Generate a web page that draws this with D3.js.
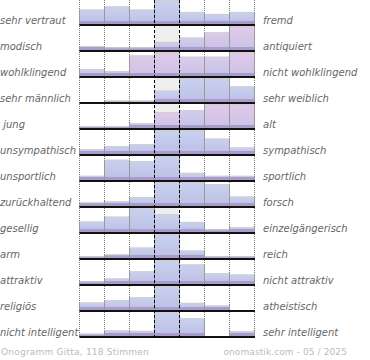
<!DOCTYPE html>
<html><head><meta charset="utf-8">
<script src="https://cdn.jsdelivr.net/npm/d3@7/dist/d3.min.js"></script>
<style>html,body{margin:0;padding:0;background:#fff}svg{display:block}</style>
</head><body>
<script>
const leftLabels = ["sehr vertraut","modisch","wohlklingend","sehr männlich"," jung","unsympathisch","unsportlich","zurückhaltend","gesellig","arm","attraktiv","religiös","nicht intelligent"];
const rightLabels = ["fremd","antiquiert","nicht wohlklingend","sehr weiblich","alt","sympathisch","sportlich","forsch","einzelgängerisch","reich","nicht attraktiv","atheistisch","sehr intelligent"];
const steps = [1,2,3,4,5,6,7];
const votes = [
  [14.7, 18, 14.7, 24.5, 12.3, 10.3, 12.3],
  [4, 2.7, 2.7, 8.3, 12.7, 18, 24.5],
  [7, 5, 21, 24.5, 19.7, 19.7, 24.5],
  [0, 1.3, 1.3, 11.7, 24.5, 24.5, 16],
  [2, 2, 5, 16.3, 18.3, 24.5, 24.5],
  [5, 8, 10, 24.5, 24.5, 15.7, 6.7],
  [4.3, 20.7, 19.3, 24.5, 7.3, 4.3, 4.3],
  [3.7, 5, 9, 24.5, 24.5, 22.3, 9.7],
  [10.7, 15.7, 24.5, 18, 10.3, 2.7, 5],
  [1.7, 3.7, 10.7, 24.5, 7.7, 1.7, 1.7],
  [2.7, 5.7, 13, 24.5, 20, 11, 9.7],
  [7.7, 10, 13, 24.5, 7.3, 4.7, 0],
  [2.3, 5.7, 5.3, 24.5, 18.3, 0, 5]
];
const tint = [
  [0,0,0,0,0,0,0],
  [0,0,0,0.2,0.3,0.7,1],
  [0.2,0,1,1,0.7,0.5,1],
  [0,0,0,0,0,0,0],
  [0,0,0,1,0.4,1,1],
  [0,0,0,0,0,0,0],[0,0,0,0,0,0,0],[0,0,0,0,0,0,0],[0,0,0,0,0,0,0],
  [0,0,0,0,0,0,0],[0,0,0,0,0,0,0],[0,0,0,0,0,0,0],[0,0,0,0,0,0,0]
];
const footerLeft = "Onogramm Gitta, 118 Stimmen";
const footerRight = "onomastik.com - 05 / 2025";

const W = 370, H = 360;
const svg = d3.select("body").append("svg").attr("width", W).attr("height", H);
const defs = svg.append("defs");

const x = d3.scaleBand().domain(steps).range([79.5, 254.5]).paddingInner(0).paddingOuter(0);
const y = d3.scaleBand().domain(d3.range(leftLabels.length)).range([0, 338]);
const rowH = 24; // max bar height
const topBlue = "#cad1ef", botBlue = "#bcc0e5";
const topPink = "#e2c9e9", botPink = "#cbc3e6";

// centre column background
svg.append("rect").attr("x", x(4)).attr("y", 0).attr("width", x.bandwidth()).attr("height", 338).attr("fill", "#eeeeee");

// dotted grid
const bounds = steps.map(s => x(s)).concat([x(7) + x.bandwidth()]);
svg.selectAll("line.grid").data(bounds.filter((b,i) => i !== 3 && i !== 4)).join("line")
  .attr("x1", d => d).attr("x2", d => d).attr("y1", 0).attr("y2", 338)
  .attr("stroke", "#777").attr("stroke-dasharray", "1,1");

// bars
votes.forEach((row, ri) => {
  const base = y(ri) + 24;
  const h = d3.scaleLinear().domain([0, d3.max(row)]).range([0, rowH]);
  const g = svg.append("g");
  row.forEach((v, ci) => {
    const hv = h(v);
    if (hv <= 0) return;
    const t = tint[ri][ci];
    const id = `g${ri}_${ci}`;
    const gr = defs.append("linearGradient").attr("id", id).attr("x1", 0).attr("y1", 0).attr("x2", 0).attr("y2", 1);
    gr.append("stop").attr("offset", "0%").attr("stop-color", d3.interpolateRgb(topBlue, topPink)(t));
    gr.append("stop").attr("offset", "100%").attr("stop-color", d3.interpolateRgb(botBlue, botPink)(t));
    const x0 = x(steps[ci]), bw = x.bandwidth();
    g.append("rect").attr("x", x0).attr("y", base - hv).attr("width", bw).attr("height", hv).attr("fill", `url(#${id})`);
    const bh = Math.min(3, hv);
    g.append("rect").attr("x", x0).attr("y", base - bh).attr("width", bw).attr("height", bh).attr("fill", "#a99ccc");
    g.append("line").attr("x1", x0).attr("x2", x0 + bw).attr("y1", base - hv + 0.5).attr("y2", base - hv + 0.5).attr("stroke", "#cfcfcf");
    g.append("line").attr("x1", x0).attr("x2", x0).attr("y1", base - hv).attr("y2", base).attr("stroke", "#999");
    g.append("line").attr("x1", x0 + bw).attr("x2", x0 + bw).attr("y1", base - hv).attr("y2", base).attr("stroke", "#999");
  });
  // baseline
  svg.append("line").attr("x1", 79.5).attr("x2", 255).attr("y1", base + 1).attr("y2", base + 1)
    .attr("stroke", "#111").attr("stroke-width", 2);
});

// dashed centre lines
svg.selectAll("line.dash").data([bounds[3], bounds[4]]).join("line")
  .attr("x1", d => d).attr("x2", d => d).attr("y1", 0).attr("y2", 338)
  .attr("stroke", "#000").attr("stroke-dasharray", "3,2");

// labels
const font = "DejaVu Sans";
svg.selectAll("text.left").data(leftLabels).join("text")
  .attr("x", 0).attr("y", (d,i) => y(i) + 23.5)
  .attr("font-family", font).attr("font-size", 10).attr("font-style", "italic")
  .attr("fill", "#666").style("white-space", "pre").text(d => d);
svg.selectAll("text.right").data(rightLabels).join("text")
  .attr("x", 263).attr("y", (d,i) => y(i) + 23.5)
  .attr("font-family", font).attr("font-size", 10).attr("font-style", "italic")
  .attr("fill", "#666").text(d => d);

svg.append("text").attr("x", 1).attr("y", 355).attr("font-family", font).attr("font-size", 9)
  .attr("letter-spacing", 0.22).attr("fill", "#bbb").text(footerLeft);
svg.append("text").attr("x", 347).attr("y", 355).attr("text-anchor", "end").attr("font-family", font).attr("font-size", 9)
  .attr("letter-spacing", 0.1).attr("fill", "#bbb").text(footerRight);
</script>
</body></html>
